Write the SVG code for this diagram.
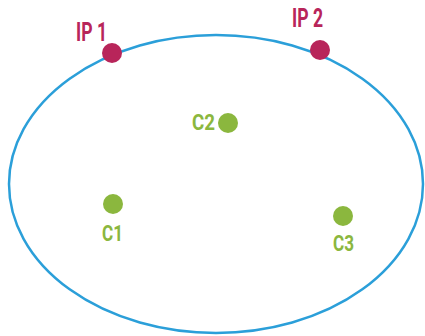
<svg xmlns="http://www.w3.org/2000/svg" width="425" height="336" viewBox="0 0 425 336">
<style>
.ip{fill:#b8255a}
.c{fill:#8bb73e}
.lip{font-family:"Roboto","Liberation Sans",sans-serif;font-weight:bold;font-size:25px;fill:#b8255a}
.lc{font-family:"Roboto","Liberation Sans",sans-serif;font-weight:bold;font-size:22px;fill:#8bb73e}
</style>
<rect width="425" height="336" fill="#ffffff"/>
<g id="connectors">
<ellipse cx="216" cy="184" rx="207" ry="149" fill="none" stroke="#2b9fd9" stroke-width="2.5"/>
</g>
<g id="IP1"><circle class="ip" cx="112" cy="53" r="10"/><text class="lip" x="76" y="41" textLength="31" lengthAdjust="spacingAndGlyphs">IP 1</text></g>
<g id="IP2"><circle class="ip" cx="320" cy="50" r="10"/><text class="lip" x="292" y="27" textLength="31" lengthAdjust="spacingAndGlyphs">IP 2</text></g>
<g id="C2"><circle class="c" cx="228" cy="123" r="10"/><text class="lc" x="192" y="130" textLength="23" lengthAdjust="spacingAndGlyphs">C2</text></g>
<g id="C1"><circle class="c" cx="113" cy="204" r="10"/><text class="lc" x="102" y="241" textLength="21" lengthAdjust="spacingAndGlyphs">C1</text></g>
<g id="C3"><circle class="c" cx="343" cy="216" r="10"/><text class="lc" x="333" y="251" textLength="21" lengthAdjust="spacingAndGlyphs">C3</text></g>
</svg>
